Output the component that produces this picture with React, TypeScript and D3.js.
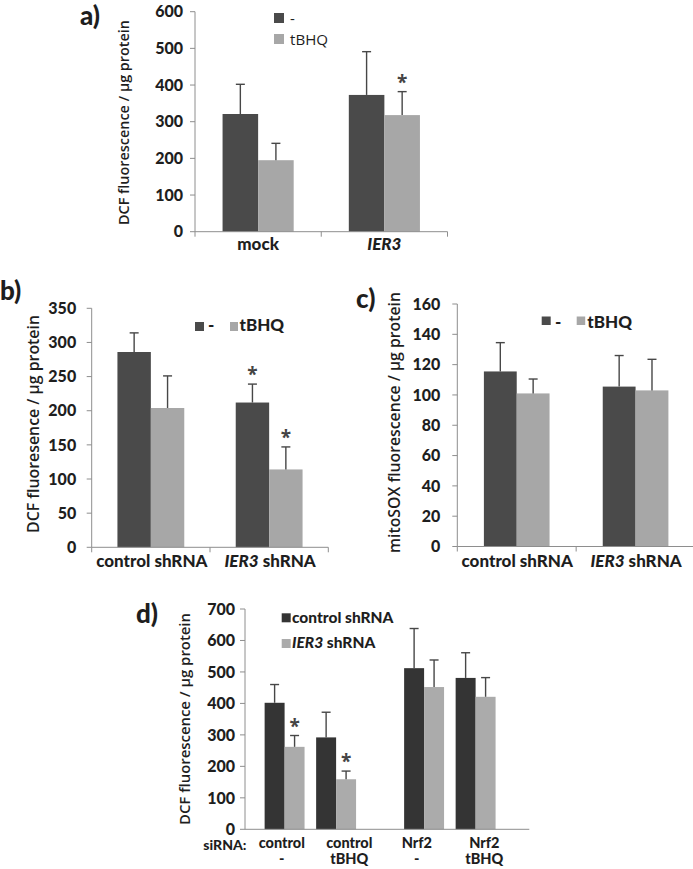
import React from 'react';
import * as d3 from 'd3';

const W = 693;
const H = 869;
const FONT = "Lato, 'Open Sans', 'DejaVu Sans', sans-serif";
const TFONT = "'Open Sans', Lato, 'DejaVu Sans', sans-serif";
const HEAVY = 900;

// ---------- Panel a ----------
const aCategories = ['mock', 'IER3'];
const aSeries = ['-', 'tBHQ'];
const aMinus = [321, 373];
const aTbhq = [195, 318];
const aMinusErr = [81, 118];
const aTbhqErr = [46, 64];
const aMinusStar = [false, false];
const aTbhqStar = [false, true];
const aTicks = [0, 100, 200, 300, 400, 500, 600];

// ---------- Panel b ----------
const bCategories = ['control shRNA', 'IER3 shRNA'];
const bSeries = ['-', 'tBHQ'];
const bMinus = [286, 212];
const bTbhq = [204, 114];
const bMinusErr = [28, 27];
const bTbhqErr = [47, 33];
const bMinusStar = [false, true];
const bTbhqStar = [false, true];
const bTicks = [0, 50, 100, 150, 200, 250, 300, 350];

// ---------- Panel c ----------
const cCategories = ['control shRNA', 'IER3 shRNA'];
const cSeries = ['-', 'tBHQ'];
const cMinus = [115.5, 105.5];
const cTbhq = [101, 103];
const cMinusErr = [19, 20.5];
const cTbhqErr = [9.5, 20.5];
const cTicks = [0, 20, 40, 60, 80, 100, 120, 140, 160];

// ---------- Panel d ----------
const dSiRNA = ['control', 'Nrf2'];
const dTreatment = ['-', 'tBHQ'];
const dSeries = ['control shRNA', 'IER3 shRNA'];
const dControl = [402, 292, 512, 481];
const dIER3 = [262, 159, 452, 421];
const dControlErr = [58, 80, 126, 80];
const dIER3Err = [36, 26, 86, 61];
const dControlStar = [false, false, false, false];
const dIER3Star = [true, true, false, false];
const dTicks = [0, 100, 200, 300, 400, 500, 600, 700];

const DARK = '#4a4a4a';
const LIGHT = '#a7a7a7';
const DDARK = '#343434';
const DLIGHT = '#ababab';
const AXIS = '#8e8e8e';
const ERR = '#474747';
const TXT = '#1e1e1e';

type Bar = { x: number; w: number; v: number; e: number; star: boolean; color: string; key: string };

function twoLevelBars(
  cats: string[], series: string[], vals: number[][], errs: number[][], stars: boolean[][],
  colors: string[], range: [number, number], pad: number
): { bars: Bar[]; outer: d3.ScaleBand<string> } {
  const outer = d3.scaleBand<string>().domain(cats).range(range).paddingInner(0).paddingOuter(0);
  const inner = d3.scaleBand<string>().domain(series).range([0, outer.bandwidth()]).paddingInner(0).paddingOuter(pad);
  const bars: Bar[] = [];
  cats.forEach((c, i) => {
    series.forEach((s, j) => {
      bars.push({
        x: (outer(c) as number) + (inner(s) as number), w: inner.bandwidth(),
        v: vals[j][i], e: errs[j][i], star: stars[j][i], color: colors[j], key: c + s,
      });
    });
  });
  return { bars, outer };
}

function BarsAndErrors({ bars, y }: { bars: Bar[]; y: d3.ScaleLinear<number, number> }) {
  return (
    <g>
      {bars.map((b) => {
        const cx = b.x + b.w / 2;
        const top = y(b.v);
        const cap = y(b.v + b.e);
        return (
          <g key={b.key}>
            <rect x={b.x} y={top} width={b.w} height={y(0) - top} fill={b.color} />
            <line x1={cx} x2={cx} y1={top} y2={cap} stroke={ERR} strokeWidth={1.4} />
            <line x1={cx - 4.5} x2={cx + 4.5} y1={cap} y2={cap} stroke={ERR} strokeWidth={1.4} />
            {b.star && (
              <text x={cx} y={cap - 3} textAnchor="middle" fontSize={19} fontWeight="bold" fill="#444" fontFamily={TFONT}>*</text>
            )}
          </g>
        );
      })}
    </g>
  );
}

function YAxis({ y, ticks, x, gap, fontSize = 16 }: { y: d3.ScaleLinear<number, number>; ticks: number[]; x: number; gap: number; fontSize?: number }) {
  const [r0, r1] = y.range();
  return (
    <g>
      <line x1={x} x2={x} y1={r0} y2={r1} stroke={AXIS} strokeWidth={1} />
      {ticks.map((t) => (
        <g key={t}>
          <line x1={x - 5} x2={x} y1={y(t)} y2={y(t)} stroke={AXIS} strokeWidth={1} />
          <text x={x - gap} y={y(t) + fontSize * 0.36} textAnchor="end" fontSize={fontSize} fontWeight={HEAVY} fill={TXT} fontFamily={FONT}>{t}</text>
        </g>
      ))}
    </g>
  );
}

function XAxisBand({ outer, y0, ticks }: { outer: d3.ScaleBand<string>; y0: number; ticks: boolean }) {
  const [a, b] = outer.range();
  const edges = ticks ? [a, ...outer.domain().map((c) => (outer(c) as number) + outer.bandwidth())] : [];
  return (
    <g>
      <line x1={a} x2={b} y1={y0} y2={y0} stroke={AXIS} strokeWidth={1} />
      {edges.map((e, i) => (
        <line key={i} x1={e} x2={e} y1={y0} y2={y0 + 5} stroke={AXIS} strokeWidth={1} />
      ))}
    </g>
  );
}

function CatLabel({ text, x, y, size }: { text: string; x: number; y: number; size: number }) {
  const parts = text.split(' ');
  const italicFirst = parts[0] === 'IER3';
  return (
    <text x={x} y={y} textAnchor="middle" fontSize={size} fontWeight={HEAVY} fill={TXT} fontFamily={FONT}>
      {italicFirst ? (
        <>
          <tspan fontStyle="italic">IER3</tspan>
          {parts.length > 1 ? ' ' + parts.slice(1).join(' ') : ''}
        </>
      ) : text}
    </text>
  );
}

function YTitle({ text, x, y, len, size }: { text: string; x: number; y: number; len: number; size: number }) {
  return (
    <text transform={`translate(${x},${y}) rotate(-90)`} textAnchor="middle" fontSize={size} fill={TXT}
      fontWeight={600} fontFamily={TFONT} textLength={len} lengthAdjust="spacingAndGlyphs">{text}</text>
  );
}

function PanelLabel({ t, x, y }: { t: string; x: number; y: number }) {
  return <text x={x} y={y} fontSize={26} fontWeight={HEAVY} fill={TXT} fontFamily={FONT}>{t}</text>;
}

export default function App() {
  // Panel a
  const ay = d3.scaleLinear().domain([0, 600]).range([231.7, 11.7]);
  const A = twoLevelBars(aCategories, aSeries, [aMinus, aTbhq], [aMinusErr, aTbhqErr], [aMinusStar, aTbhqStar], [DARK, LIGHT], [195, 447.5], 0.775);

  // Panel b
  const by = d3.scaleLinear().domain([0, 350]).range([547.3, 308.3]);
  const B = twoLevelBars(bCategories, bSeries, [bMinus, bTbhq], [bMinusErr, bTbhqErr], [bMinusStar, bTbhqStar], [DARK, LIGHT], [91.7, 328.3], 0.77);

  // Panel c
  const cy = d3.scaleLinear().domain([0, 160]).range([546.5, 304]);
  const noStars = [false, false];
  const C = twoLevelBars(cCategories, cSeries, [cMinus, cTbhq], [cMinusErr, cTbhqErr], [noStars, noStars], [DARK, LIGHT], [457.3, 695], 0.81);

  // Panel d (nested: siRNA > treatment > shRNA)
  const dy = d3.scaleLinear().domain([0, 700]).range([829.3, 609]);
  const dOuter = d3.scaleBand<string>().domain(dSiRNA).range([240.6, 519.6]);
  const dMid = d3.scaleBand<string>().domain(dTreatment).range([0, dOuter.bandwidth()]).paddingOuter(0.354);
  const dInner = d3.scaleBand<string>().domain(dSeries).range([0, dMid.bandwidth()]).paddingOuter(0.29);
  const dVals = [dControl, dIER3];
  const dErrs = [dControlErr, dIER3Err];
  const dStars = [dControlStar, dIER3Star];
  const dColors = [DDARK, DLIGHT];
  const dBars: Bar[] = [];
  const dCombos: { si: string; tr: string }[] = [];
  dSiRNA.forEach((si) => dTreatment.forEach((tr) => dCombos.push({ si, tr })));
  dCombos.forEach((cmb, i) => {
    dSeries.forEach((s, j) => {
      dBars.push({
        x: (dOuter(cmb.si) as number) + (dMid(cmb.tr) as number) + (dInner(s) as number),
        w: dInner.bandwidth(), v: dVals[j][i], e: dErrs[j][i], star: dStars[j][i], color: dColors[j], key: cmb.si + cmb.tr + s,
      });
    });
  });
  const dLabelScale = d3.scaleBand<number>().domain(dCombos.map((_, i) => i)).range([248, 518]);

  return (
    <svg width={W} height={H} style={{ position: 'absolute', left: 0, top: 0, background: '#fff' }}>
      <rect width={W} height={H} fill="#fff" />

      {/* ---------- a ---------- */}
      <PanelLabel t="a)" x={80} y={25} />
      <YTitle text="DCF fluorescence / µg protein" x={129} y={122.5} len={205} size={14} />
      <BarsAndErrors bars={A.bars} y={ay} />
      <YAxis y={ay} ticks={aTicks} x={195} gap={12} />
      <XAxisBand outer={A.outer} y0={ay(0)} ticks={true} />
      {aCategories.map((c) => (
        <CatLabel key={c} text={c} x={(A.outer(c) as number) + A.outer.bandwidth() / 2} y={250} size={17} />
      ))}
      <rect x={274} y={13} width={10} height={10} fill={DARK} />
      <text x={290} y={24} fontSize={15} fill={TXT} fontFamily={TFONT}>{aSeries[0]}</text>
      <rect x={274} y={34} width={10} height={10} fill={LIGHT} />
      <text x={290} y={45} fontSize={15} fill={TXT} fontFamily={TFONT} textLength={38} lengthAdjust="spacingAndGlyphs">{aSeries[1]}</text>

      {/* ---------- b ---------- */}
      <PanelLabel t="b)" x={0} y={300} />
      <YTitle text="DCF fluoresence / µg protein" x={39} y={424} len={218} size={15.5} />
      <BarsAndErrors bars={B.bars} y={by} />
      <YAxis y={by} ticks={bTicks} x={91.7} gap={15.5} />
      <XAxisBand outer={B.outer} y0={by(0)} ticks={true} />
      {bCategories.map((c) => (
        <CatLabel key={c} text={c} x={(B.outer(c) as number) + B.outer.bandwidth() / 2 + 1} y={566.7} size={17} />
      ))}
      <rect x={195} y={322} width={9} height={9} fill={DARK} />
      <text x={208} y={331} fontSize={17} fontWeight={HEAVY} fill={TXT} fontFamily={FONT}>{bSeries[0]}</text>
      <rect x={230} y={322} width={8} height={9} fill={LIGHT} />
      <text x={239.5} y={331} fontSize={17} fontWeight={HEAVY} fill={TXT} fontFamily={FONT}>{bSeries[1]}</text>

      {/* ---------- c ---------- */}
      <PanelLabel t="c)" x={356} y={308} />
      <YTitle text="mitoSOX  fluorescence / µg protein" x={400} y={422.5} len={261} size={15.5} />
      <BarsAndErrors bars={C.bars} y={cy} />
      <YAxis y={cy} ticks={cTicks} x={457.3} gap={17} />
      <XAxisBand outer={C.outer} y0={cy(0)} ticks={true} />
      {cCategories.map((c) => (
        <CatLabel key={c} text={c} x={(C.outer(c) as number) + C.outer.bandwidth() / 2 + 0.5} y={567.3} size={17} />
      ))}
      <rect x={541.7} y={316.5} width={9} height={8.5} fill={DARK} />
      <text x={555} y={328} fontSize={17} fontWeight={HEAVY} fill={TXT} fontFamily={FONT}>{cSeries[0]}</text>
      <rect x={576.7} y={316.5} width={8.5} height={8.5} fill={LIGHT} />
      <text x={587.3} y={328} fontSize={17} fontWeight={HEAVY} fill={TXT} fontFamily={FONT}>{cSeries[1]}</text>

      {/* ---------- d ---------- */}
      <PanelLabel t="d)" x={136} y={623} />
      <YTitle text="DCF fluorescence / µg protein" x={190} y={719} len={212} size={14.5} />
      <BarsAndErrors bars={dBars} y={dy} />
      <YAxis y={dy} ticks={dTicks} x={245} gap={10} />
      <line x1={245} x2={529.3} y1={dy(0)} y2={dy(0)} stroke={AXIS} strokeWidth={1} />
      <text x={246.5} y={849.5} textAnchor="end" fontSize={14} fontWeight={HEAVY} fill={TXT} fontFamily={FONT}>siRNA:</text>
      {dCombos.map((cmb, i) => {
        const lx = (dLabelScale(i) as number) + dLabelScale.bandwidth() / 2;
        return (
          <g key={i}>
            <text x={lx} y={848} textAnchor="middle" fontSize={14.5} fontWeight={HEAVY} fill={TXT} fontFamily={FONT}>{cmb.si}</text>
            <text x={lx} y={864} textAnchor="middle" fontSize={14.5} fontWeight={HEAVY} fill={TXT} fontFamily={FONT}>{cmb.tr}</text>
          </g>
        );
      })}
      <rect x={281.7} y={613.3} width={9} height={9} fill={DDARK} />
      <text x={292} y={622.5} fontSize={15.5} fontWeight={HEAVY} fill={TXT} fontFamily={FONT}>{dSeries[0]}</text>
      <rect x={281.7} y={639} width={9} height={9} fill={DLIGHT} />
      <text x={292} y={648} fontSize={15.5} fontWeight={HEAVY} fill={TXT} fontFamily={FONT}>
        <tspan fontStyle="italic">IER3</tspan> shRNA
      </text>
    </svg>
  );
}
